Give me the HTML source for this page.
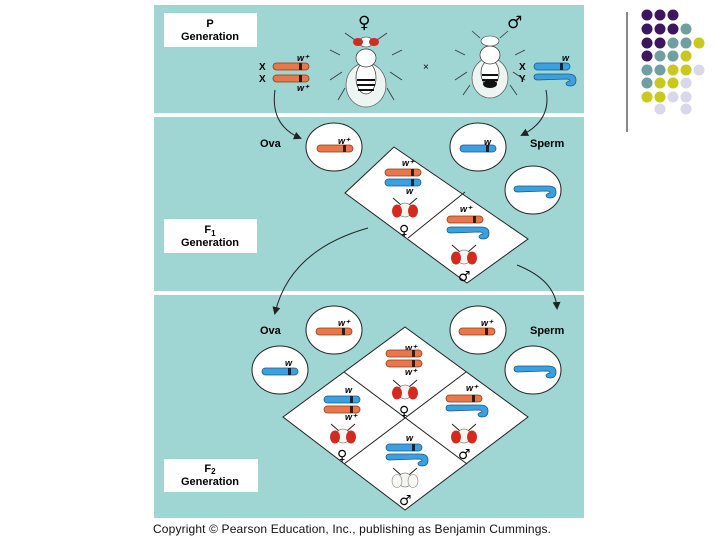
<!DOCTYPE html>
<html><head><meta charset="utf-8"><style>
body{margin:0;background:#fff;width:720px;height:540px;overflow:hidden}
svg{display:block}
text{font-family:"Liberation Sans",sans-serif}
.g{font-family:"DejaVu Sans",sans-serif;font-weight:bold}
</style></head><body>
<svg width="720" height="540" viewBox="0 0 720 540">
<defs>
<g id="oc"><rect x="0" y="0" width="36" height="7" rx="3.5" fill="#e8784a" stroke="#8a3a1a" stroke-width="0.8"/><rect x="26" y="0" width="3" height="7" fill="#3a1a10"/></g>
<g id="bc"><rect x="0" y="0" width="36" height="7" rx="3.5" fill="#3aa0e0" stroke="#1a5a8a" stroke-width="0.8"/><rect x="26" y="0" width="3" height="7" fill="#10283a"/></g>
<g id="yc"><path d="M0,3 Q0,0 4,0 L34,0 Q42,0 42,6 Q42,12 36,12 Q32,12 32,9 Q34,7 36,7 Q36,5 32,5 L4,6 Q0,6 0,3 Z" fill="#3aa0e0" stroke="#1a5a8a" stroke-width="0.8"/></g>
<g id="head"><path d="M-4,-5 L-12,-12 M4,-5 L12,-12" stroke="#222" stroke-width="1"/><ellipse cx="0" cy="0" rx="7" ry="7" fill="#f4f4f0" stroke="#555" stroke-width="0.6"/><ellipse cx="-8" cy="1" rx="5" ry="6.5" fill="#d42a1e"/><ellipse cx="8" cy="1" rx="5" ry="6.5" fill="#d42a1e"/></g>
<g id="whead"><path d="M-4,-5 L-12,-12 M4,-5 L12,-12" stroke="#222" stroke-width="1"/><ellipse cx="0" cy="0" rx="7" ry="7" fill="#f4f4f0" stroke="#555" stroke-width="0.6"/><ellipse cx="-8" cy="1" rx="5" ry="6.5" fill="#f8f8f4" stroke="#888" stroke-width="0.6"/><ellipse cx="8" cy="1" rx="5" ry="6.5" fill="#f8f8f4" stroke="#888" stroke-width="0.6"/></g>
<marker id="ar" markerWidth="8" markerHeight="8" refX="6" refY="4" orient="auto"><path d="M0,0 L8,4 L0,8 Z" fill="#222"/></marker>
</defs>
<rect x="154" y="5" width="430" height="108" fill="#9fd6d4"/>
<rect x="154" y="117" width="430" height="174" fill="#9fd6d4"/>
<rect x="154" y="295" width="430" height="223" fill="#9fd6d4"/>
<rect x="164" y="13" width="93" height="34" fill="#fff"/>
<text x="210" y="27" font-size="11" font-weight="bold" text-anchor="middle">P</text>
<text x="210" y="40" font-size="11" font-weight="bold" text-anchor="middle">Generation</text>
<rect x="164" y="219" width="93" height="34" fill="#fff"/>
<text x="210" y="233" font-size="11" font-weight="bold" text-anchor="middle">F<tspan font-size="8" dy="3">1</tspan></text>
<text x="210" y="246" font-size="11" font-weight="bold" text-anchor="middle">Generation</text>
<rect x="164" y="459" width="94" height="33" fill="#fff"/>
<text x="210" y="472" font-size="11" font-weight="bold" text-anchor="middle">F<tspan font-size="8" dy="2">2</tspan></text>
<text x="210" y="485" font-size="11" font-weight="bold" text-anchor="middle">Generation</text>
<g stroke="#333" stroke-width="0.8" fill="none">
<path d="M340,55 L330,50 M392,55 L402,50 M342,72 L330,80 M390,72 L402,80 M345,88 L338,100 M387,88 L394,100 M355,40 L345,33 M377,40 L387,33"/>
<path d="M465,55 L455,50 M515,55 L525,50 M467,72 L455,80 M513,72 L525,80 M470,85 L463,95 M510,85 L517,95 M480,38 L472,31 M500,38 L508,31"/>
</g>
<ellipse cx="366" cy="85" rx="20" ry="22" fill="#eef4f2" stroke="#555" stroke-width="0.7"/>
<ellipse cx="366" cy="78" rx="10" ry="16" fill="#fff" stroke="#333" stroke-width="0.7"/>
<path d="M357,80 H375 M357,85 H375 M358,90 H374" stroke="#111" stroke-width="2"/>
<ellipse cx="366" cy="58" rx="10" ry="9" fill="#fff" stroke="#333" stroke-width="0.7"/>
<ellipse cx="366" cy="42" rx="7" ry="5" fill="#fff" stroke="#333" stroke-width="0.6"/>
<ellipse cx="358" cy="42" rx="5" ry="4" fill="#d42a1e"/><ellipse cx="374" cy="42" rx="5" ry="4" fill="#d42a1e"/>
<ellipse cx="490" cy="78" rx="18" ry="20" fill="#eef4f2" stroke="#555" stroke-width="0.7"/>
<ellipse cx="490" cy="73" rx="9" ry="13" fill="#fff" stroke="#333" stroke-width="0.7"/>
<path d="M482,75 H498 M482,80 H498" stroke="#111" stroke-width="2"/><ellipse cx="490" cy="84" rx="7" ry="4" fill="#111"/>
<ellipse cx="490" cy="55" rx="10" ry="9" fill="#fff" stroke="#333" stroke-width="0.7"/>
<ellipse cx="490" cy="41" rx="9" ry="5" fill="#fff" stroke="#333" stroke-width="0.6"/>
<text class="g" x="358" y="28" font-size="17">♀</text>
<text class="g" x="507" y="28" font-size="17">♂</text>
<text x="423" y="70" font-size="10">×</text>
<text x="259" y="70" font-size="10" font-weight="bold">X</text><text x="259" y="82" font-size="10" font-weight="bold">X</text>
<use href="#oc" x="273" y="63"/><use href="#oc" x="273" y="75"/>
<text x="297" y="61" font-size="9" font-style="italic" font-weight="bold">w⁺</text>
<text x="297" y="91" font-size="9" font-style="italic" font-weight="bold">w⁺</text>
<text x="519" y="70" font-size="10" font-weight="bold">X</text><text x="519" y="82" font-size="10" font-weight="bold">Y</text>
<use href="#bc" x="534" y="63"/><use href="#yc" x="534" y="74"/>
<text x="562" y="61" font-size="9" font-style="italic" font-weight="bold">w</text>
<path d="M275,90 Q270,125 300,138" fill="none" stroke="#222" stroke-width="1" marker-end="url(#ar)"/>
<path d="M546,90 Q552,120 522,135" fill="none" stroke="#222" stroke-width="1" marker-end="url(#ar)"/>
<text x="260" y="147" font-size="11" font-weight="bold">Ova</text>
<text x="530" y="147" font-size="11" font-weight="bold">Sperm</text>
<ellipse cx="334" cy="147" rx="28" ry="24" fill="#fff" stroke="#222"/>
<use href="#oc" x="317" y="145"/><text x="338" y="144" font-size="9" font-style="italic" font-weight="bold">w⁺</text>
<ellipse cx="478" cy="147" rx="28" ry="24" fill="#fff" stroke="#222"/>
<use href="#bc" x="460" y="145"/><text x="484" y="145" font-size="9" font-style="italic" font-weight="bold">w</text>
<ellipse cx="533" cy="190" rx="28" ry="24" fill="#fff" stroke="#222"/>
<use href="#yc" x="514" y="186"/>
<path d="M394,147 L528,239 L467,283 L345,193 Z" fill="#fff" stroke="#222"/>
<path d="M465,192 L408,238" stroke="#222"/>
<text x="402" y="166" font-size="9" font-style="italic" font-weight="bold">w⁺</text>
<use href="#oc" x="385" y="169"/><use href="#bc" x="385" y="179"/>
<text x="406" y="194" font-size="9" font-style="italic" font-weight="bold">w</text>
<use href="#head" x="405" y="210"/>
<text class="g" x="399" y="235" font-size="14">♀</text>
<text x="460" y="212" font-size="9" font-style="italic" font-weight="bold">w⁺</text>
<use href="#oc" x="447" y="216"/><use href="#yc" x="447" y="227"/>
<use href="#head" x="464" y="257"/>
<text class="g" x="458" y="281" font-size="14">♂</text>
<path d="M368,228 Q290,250 275,313" fill="none" stroke="#222" stroke-width="1" marker-end="url(#ar)"/>
<path d="M517,265 Q555,280 557,308" fill="none" stroke="#222" stroke-width="1" marker-end="url(#ar)"/>
<text x="260" y="334" font-size="11" font-weight="bold">Ova</text>
<text x="530" y="334" font-size="11" font-weight="bold">Sperm</text>
<ellipse cx="334" cy="330" rx="28" ry="24" fill="#fff" stroke="#222"/>
<use href="#oc" x="316" y="328"/><text x="338" y="326" font-size="9" font-style="italic" font-weight="bold">w⁺</text>
<ellipse cx="280" cy="370" rx="28" ry="24" fill="#fff" stroke="#222"/>
<use href="#bc" x="262" y="368"/><text x="285" y="366" font-size="9" font-style="italic" font-weight="bold">w</text>
<ellipse cx="478" cy="330" rx="28" ry="24" fill="#fff" stroke="#222"/>
<use href="#oc" x="459" y="328"/><text x="481" y="326" font-size="9" font-style="italic" font-weight="bold">w⁺</text>
<ellipse cx="533" cy="370" rx="28" ry="24" fill="#fff" stroke="#222"/>
<use href="#yc" x="514" y="366"/>
<path d="M405,327 L528,417 L405,510 L283,417 Z" fill="#fff" stroke="#222"/>
<path d="M344,372 L467,464 M466,372 L344,464" stroke="#222"/>
<text x="405" y="351" font-size="9" font-style="italic" font-weight="bold">w⁺</text>
<use href="#oc" x="386" y="350"/><use href="#oc" x="386" y="360"/>
<text x="405" y="375" font-size="9" font-style="italic" font-weight="bold">w⁺</text>
<use href="#head" x="405" y="392"/>
<text class="g" x="399" y="416" font-size="14">♀</text>
<text x="345" y="393" font-size="9" font-style="italic" font-weight="bold">w</text>
<use href="#bc" x="324" y="396"/><use href="#oc" x="324" y="406"/>
<text x="345" y="420" font-size="9" font-style="italic" font-weight="bold">w⁺</text>
<use href="#head" x="343" y="436"/>
<text class="g" x="337" y="460" font-size="14">♀</text>
<text x="466" y="391" font-size="9" font-style="italic" font-weight="bold">w⁺</text>
<use href="#oc" x="446" y="395"/><use href="#yc" x="446" y="405"/>
<use href="#head" x="464" y="436"/>
<text class="g" x="458" y="459" font-size="14">♂</text>
<text x="406" y="441" font-size="9" font-style="italic" font-weight="bold">w</text>
<use href="#bc" x="386" y="444"/><use href="#yc" x="386" y="454"/>
<use href="#whead" x="405" y="480"/>
<text class="g" x="399" y="505" font-size="14">♂</text>
<text x="153" y="533" font-size="12" fill="#111" textLength="398">Copyright © Pearson Education, Inc., publishing as Benjamin Cummings.</text>
<line x1="627" y1="12" x2="627" y2="132" stroke="#111" stroke-width="1"/>
<g>
<circle cx="647" cy="15" r="5.5" fill="#3d1660"/><circle cx="660" cy="15" r="5.5" fill="#3d1660"/><circle cx="673" cy="15" r="5.5" fill="#3d1660"/>
<circle cx="647" cy="29" r="5.5" fill="#3d1660"/><circle cx="660" cy="29" r="5.5" fill="#3d1660"/><circle cx="673" cy="29" r="5.5" fill="#3d1660"/><circle cx="686" cy="29" r="5.5" fill="#6f9f9f"/>
<circle cx="647" cy="43" r="5.5" fill="#3d1660"/><circle cx="660" cy="43" r="5.5" fill="#3d1660"/><circle cx="673" cy="43" r="5.5" fill="#6f9f9f"/><circle cx="686" cy="43" r="5.5" fill="#6f9f9f"/><circle cx="699" cy="43" r="5.5" fill="#c8c81e"/>
<circle cx="647" cy="56" r="5.5" fill="#3d1660"/><circle cx="660" cy="56" r="5.5" fill="#6f9f9f"/><circle cx="673" cy="56" r="5.5" fill="#6f9f9f"/><circle cx="686" cy="56" r="5.5" fill="#c8c81e"/>
<circle cx="647" cy="70" r="5.5" fill="#6f9f9f"/><circle cx="660" cy="70" r="5.5" fill="#6f9f9f"/><circle cx="673" cy="70" r="5.5" fill="#c8c81e"/><circle cx="686" cy="70" r="5.5" fill="#c8c81e"/><circle cx="699" cy="70" r="5.5" fill="#d8d8ea"/>
<circle cx="647" cy="83" r="5.5" fill="#6f9f9f"/><circle cx="660" cy="83" r="5.5" fill="#c8c81e"/><circle cx="673" cy="83" r="5.5" fill="#c8c81e"/><circle cx="686" cy="83" r="5.5" fill="#d8d8ea"/>
<circle cx="647" cy="97" r="5.5" fill="#c8c81e"/><circle cx="660" cy="97" r="5.5" fill="#c8c81e"/><circle cx="673" cy="97" r="5.5" fill="#d8d8ea"/><circle cx="686" cy="97" r="5.5" fill="#d8d8ea"/>
<circle cx="660" cy="109" r="5.5" fill="#d8d8ea"/><circle cx="686" cy="109" r="5.5" fill="#d8d8ea"/>
</g>
</svg>
</body></html>
